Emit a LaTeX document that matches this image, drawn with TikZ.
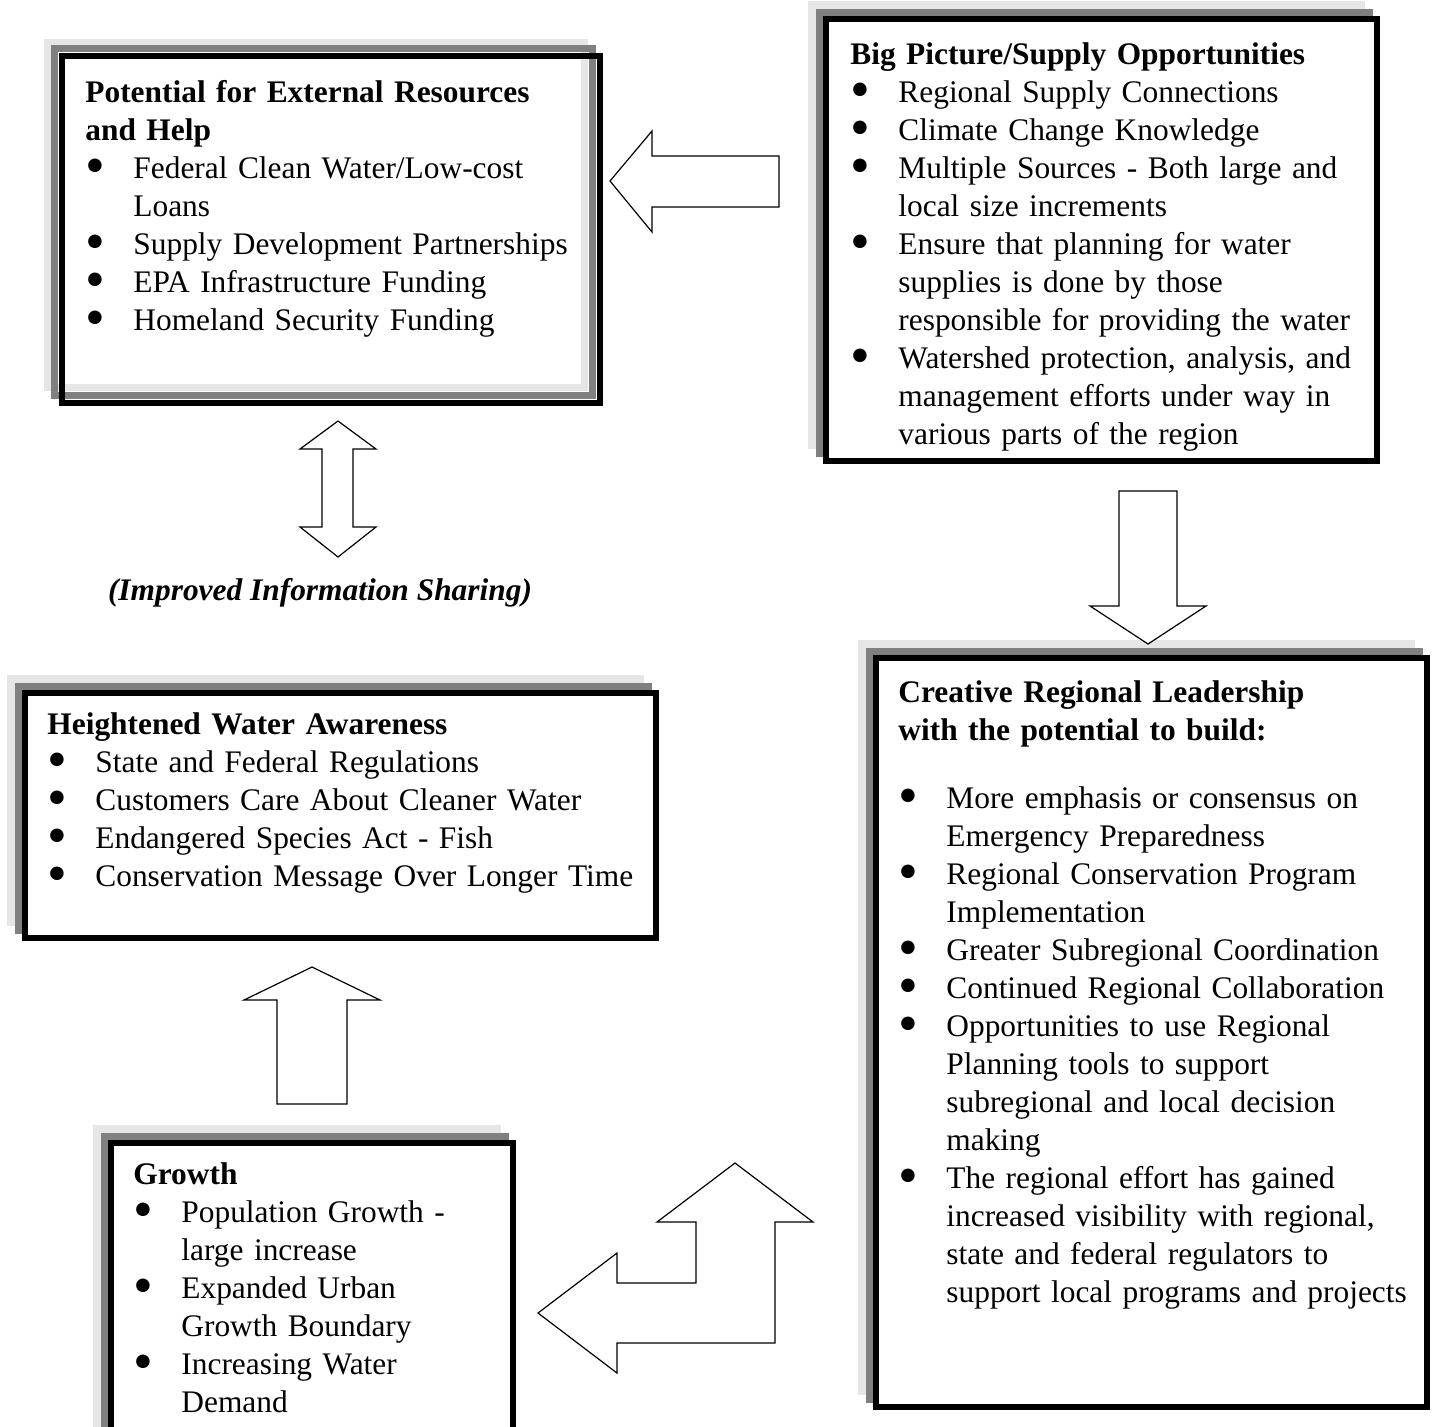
\documentclass[tikz,border=0pt]{standalone}
\usepackage{fontspec}
\setmainfont{Liberation Serif}
\usetikzlibrary{positioning}

\definecolor{shadelight}{HTML}{E6E6E6}
\definecolor{shadedark}{HTML}{808080}

% one bullet line of a box, text hung at 24pt
\newcommand{\bpt}[1]{\par\hangindent=24pt\hangafter=1\noindent
  \makebox[24pt][l]{\raisebox{-0.19em}{\scalebox{1.8}{\textbullet}}}#1}
\newcommand{\boxhead}[1]{\par\noindent\textbf{#1}}
% box with two shadows up-left; #1..#4 = outer edge of the black frame
\newcommand{\castbox}[4]{%
  \fill[shadowA] (#1-15,#2-15) rectangle (#3-15,#4-15);
  \fill[shadowB] (#1-7.5,#2-7.5) rectangle (#3-7.5,#4-7.5);
  \draw[framebox] (#1+3,#2+3) rectangle (#3-3,#4-3);}

\tikzset{
  shadowA/.style={fill=shadelight},
  shadowB/.style={fill=shadedark},
  framebox/.style={draw=black, line width=3pt, fill=white},
  boxtext/.style={anchor=north west, inner sep=0pt, text width=#1,
    font=\fontsize{15.7}{19}\selectfont},
  blockarrow/.style={draw=black, line width=0.6pt, fill=white, line join=miter}
}

\begin{document}
\begin{tikzpicture}[x=0.5pt, y=-0.5pt]
    \useasboundingbox (0,0) rectangle (1438,1426);

    % top left box, shadows drawn as frames
    \draw[shadelight, line width=3.5pt] (47.5,42) rectangle (584,387);
    \draw[shadedark, line width=3.5pt] (54.5,48.5) rectangle (592,395);
    \draw[black, line width=3pt] (62,56) rectangle (600,403);

    \castbox{823}{16}{1380}{464}
    \castbox{22}{690}{659}{941}
    \castbox{108}{1140}{516}{1445}
    \castbox{873}{655}{1430}{1410}

    \node[boxtext=270pt] (potential) at (85,64) {\raggedright
        \boxhead{Potential for External Resources\\and Help}
        \bpt{Federal Clean Water/Low-cost\newline Loans}
        \bpt{Supply Development Partnerships}
        \bpt{EPA Infrastructure Funding}
        \bpt{Homeland Security Funding}\par};

    \node[boxtext=270pt] (bigpicture) at (850,26) {\raggedright
        \boxhead{Big Picture/Supply Opportunities}
        \bpt{Regional Supply Connections}
        \bpt{Climate Change Knowledge}
        \bpt{Multiple Sources - Both large and\newline local size increments}
        \bpt{Ensure that planning for water\newline supplies is done by those\newline responsible for providing the water}
        \bpt{Watershed protection, analysis, and\newline management efforts under way in\newline various parts of the region}\par};

    \node[boxtext=310pt] (awareness) at (47,696) {\raggedright
        \boxhead{Heightened Water Awareness}
        \bpt{State and Federal Regulations}
        \bpt{Customers Care About Cleaner Water}
        \bpt{Endangered Species Act - Fish}
        \bpt{Conservation Message Over Longer Time}\par};

    \node[boxtext=190pt] (growth) at (133,1146) {\raggedright
        \boxhead{Growth}
        \bpt{Population Growth -\newline large increase}
        \bpt{Expanded Urban\newline Growth Boundary}
        \bpt{Increasing Water\newline Demand}\par};

    \node[boxtext=265pt] (leadership) at (898,664) {\raggedright
        \boxhead{Creative Regional Leadership\\with the potential to build:}
        \par\vspace{15pt}
        \bpt{More emphasis or consensus on\newline Emergency Preparedness}
        \bpt{Regional Conservation Program\newline Implementation}
        \bpt{Greater Subregional Coordination}
        \bpt{Continued Regional Collaboration}
        \bpt{Opportunities to use Regional\newline Planning tools to support\newline subregional and local decision\newline making}
        \bpt{The regional effort has gained\newline increased visibility with regional,\newline state and federal regulators to\newline support local programs and projects}\par};

    \node[font=\fontsize{15.7}{19}\selectfont\bfseries\itshape, inner sep=0pt] (sharing) at (320,593) {(Improved Information Sharing)};

    % block arrows
    \draw[blockarrow] (610,181) -- (652,131) -- (652,156) -- (779,156) -- (779,207) -- (652,207) -- (652,232) -- cycle;
    \draw[blockarrow] (338,421) -- (376,449) -- (353,449) -- (353,527) -- (376,527) -- (338,557)
        -- (300,527) -- (322,527) -- (322,449) -- (300,449) -- cycle;
    \draw[blockarrow] (1119,491) -- (1177,491) -- (1177,606) -- (1206,606) -- (1148,644) -- (1090,606) -- (1119,606) -- cycle;
    \draw[blockarrow] (312,967) -- (380,1000) -- (347,1000) -- (347,1104) -- (277,1104) -- (277,1000) -- (244,1000) -- cycle;
    \draw[blockarrow] (538,1313) -- (617,1253) -- (617,1283) -- (696,1283) -- (696,1222) -- (657,1222) -- (735,1163)
        -- (813,1222) -- (775,1222) -- (775,1343) -- (617,1343) -- (617,1373) -- cycle;
\end{tikzpicture}
\end{document}
